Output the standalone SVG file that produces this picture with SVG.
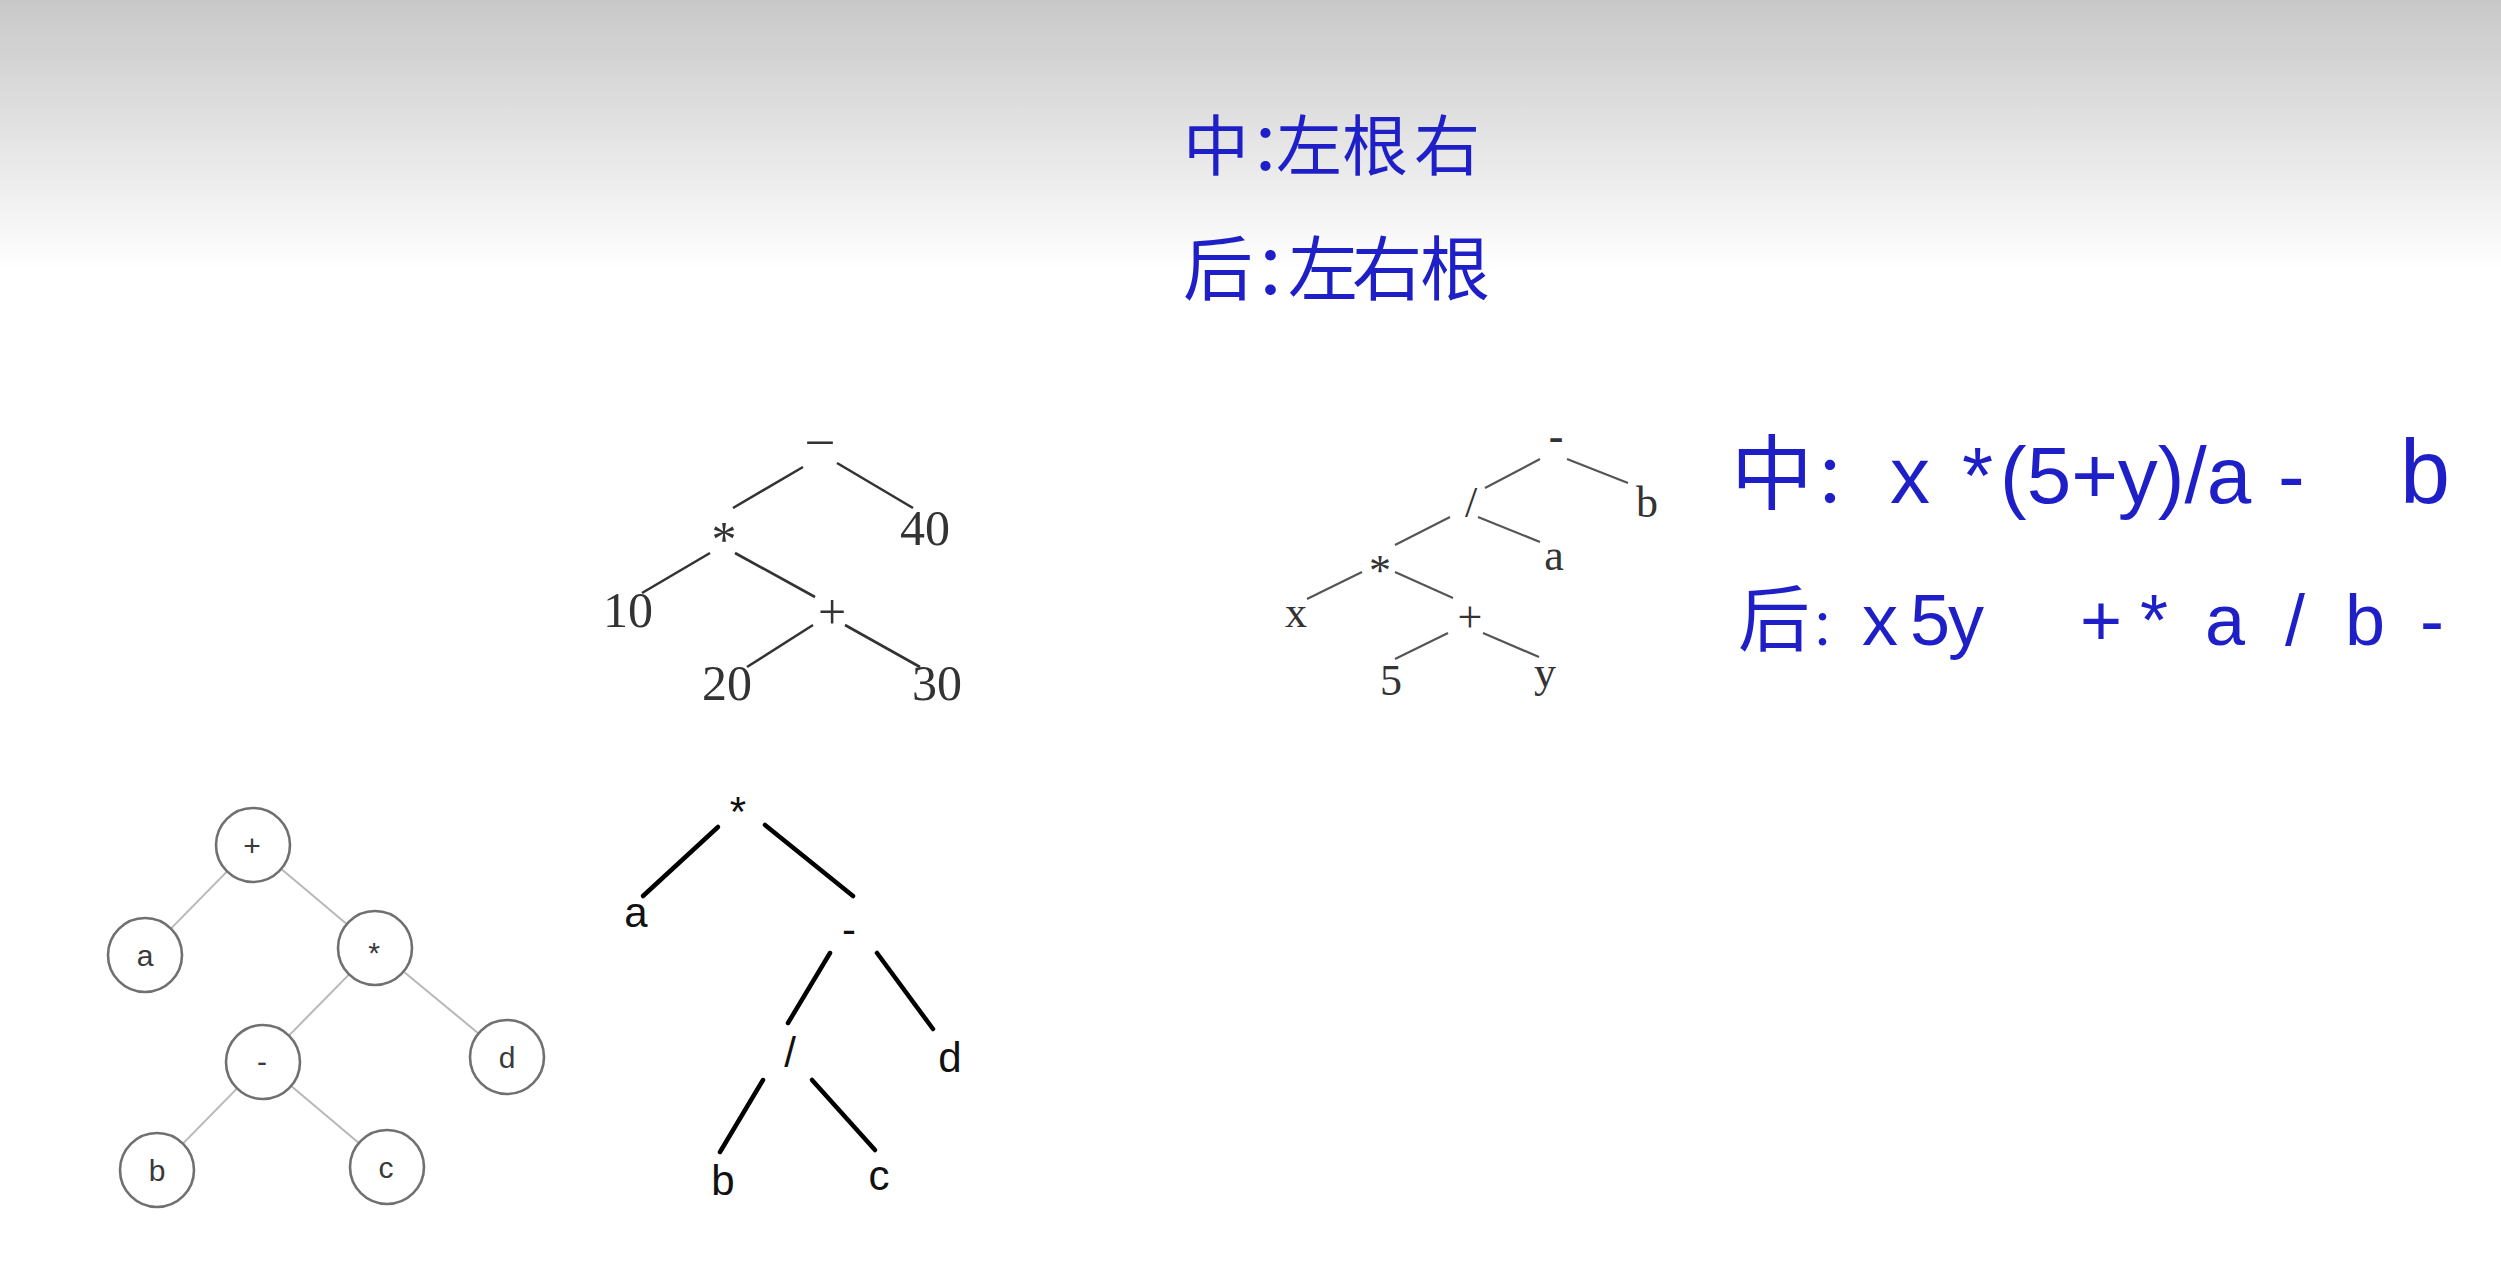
<svg xmlns="http://www.w3.org/2000/svg" width="2501" height="1273" viewBox="0 0 2501 1273">
<defs>
<linearGradient id="bg" x1="0" y1="0" x2="0" y2="270" gradientUnits="userSpaceOnUse">
<stop offset="0" stop-color="#c8c8c8"/>
<stop offset="1" stop-color="#ffffff"/>
</linearGradient>
<style>
.serif{font-family:"Liberation Serif","Times New Roman",serif;fill:#333;text-anchor:middle}
.t1{font-size:50px}
.t2{font-size:44px}
.sans{font-family:"Liberation Sans",Arial,sans-serif;text-anchor:middle}
.c3{font-size:30px;fill:#3a3a3a}
.t4{font-size:42px;fill:#111}
.e1{stroke:#333;stroke-width:2.6;fill:none}
.e2{stroke:#555;stroke-width:2.2;fill:none}
.e3{stroke:#b8b8b8;stroke-width:2;fill:none}
.e4{stroke:#000;stroke-width:4.5;fill:none;stroke-linecap:round}
.circ{fill:#fff;stroke:#707070;stroke-width:2.6}
.hw{fill:#1f1fc8;font-family:"Liberation Sans","Noto Sans CJK SC",sans-serif}
.cjk{font-family:"Noto Sans CJK SC",sans-serif}
</style>
</defs>
<rect x="0" y="0" width="2501" height="1273" fill="#fff"/>
<rect x="0" y="0" width="2501" height="270" fill="url(#bg)"/>

<!-- handwritten notes -->
<g id="note-top">
<text class="hw cjk" font-size="66" x="1183 1249 1276 1342 1414" y="170">中：左根右</text>
<text class="hw cjk" font-size="70" x="1183 1253 1288 1352 1420" y="295">后：左右根</text>
</g>
<g id="note-right">
<text class="hw" font-size="80" y="503"><tspan class="cjk" font-size="82" x="1731">中</tspan><tspan class="cjk" font-size="68" x="1813">：</tspan><tspan x="1890">x</tspan><tspan x="1962">*</tspan><tspan x="2000">(5+y)/a</tspan><tspan x="2278">-</tspan><tspan x="2400" font-size="90">b</tspan></text>
<text class="hw" font-size="72" y="645"><tspan class="cjk" font-size="72" x="1738">后</tspan><tspan class="cjk" font-size="50" x="1810">：</tspan><tspan x="1862 1910 1948 2080 2140 2205 2285 2345 2420">x5y+*a/b-</tspan></text>
</g>

<!-- connectors -->
<g id="connectors">
<g id="edges-tree1">
<line class="e1" x1="803" y1="467" x2="733" y2="508"/>
<line class="e1" x1="837" y1="463" x2="913" y2="508"/>
<line class="e1" x1="710" y1="553" x2="642" y2="593"/>
<line class="e1" x1="735" y1="553" x2="815" y2="597"/>
<line class="e1" x1="813" y1="625" x2="747" y2="667"/>
<line class="e1" x1="845" y1="625" x2="920" y2="667"/>
</g>
<g id="edges-tree2">
<line class="e2" x1="1540" y1="459" x2="1485" y2="488"/>
<line class="e2" x1="1567" y1="459" x2="1628" y2="483"/>
<line class="e2" x1="1450" y1="517" x2="1395" y2="545"/>
<line class="e2" x1="1478" y1="517" x2="1540" y2="542"/>
<line class="e2" x1="1362" y1="572" x2="1307" y2="599"/>
<line class="e2" x1="1395" y1="572" x2="1453" y2="598"/>
<line class="e2" x1="1448" y1="633" x2="1395" y2="659"/>
<line class="e2" x1="1483" y1="633" x2="1539" y2="657"/>
</g>
<g id="edges-tree3">
<line class="e3" x1="227.1" y1="871.4" x2="170.9" y2="928.6"/>
<line class="e3" x1="281.3" y1="868.9" x2="346.7" y2="924.1"/>
<line class="e3" x1="349.1" y1="974.4" x2="288.9" y2="1035.6"/>
<line class="e3" x1="403.5" y1="971.6" x2="478.5" y2="1033.4"/>
<line class="e3" x1="237.1" y1="1088.4" x2="182.9" y2="1143.6"/>
<line class="e3" x1="291.2" y1="1085.9" x2="358.8" y2="1143.1"/>
</g>
<g id="edges-tree4">
<line class="e4" x1="718" y1="827" x2="643" y2="896"/>
<line class="e4" x1="765" y1="825" x2="853" y2="896"/>
<line class="e4" x1="830" y1="953" x2="788" y2="1023"/>
<line class="e4" x1="877" y1="953" x2="933" y2="1029"/>
<line class="e4" x1="763" y1="1080" x2="720" y2="1152"/>
<line class="e4" x1="812" y1="1080" x2="875" y2="1150"/>
</g>
</g>

<!-- tree 1 -->
<g id="t1-minus"><text class="serif t1" x="820" y="455">–</text></g>
<g id="t1-mul"><text class="serif t1" x="724" y="556">*</text></g>
<g id="t1-40"><text class="serif t1" x="925" y="545">40</text></g>
<g id="t1-10"><text class="serif t1" x="628" y="627">10</text></g>
<g id="t1-plus"><text class="serif t1" x="832" y="629">+</text></g>
<g id="t1-20"><text class="serif t1" x="727" y="700">20</text></g>
<g id="t1-30"><text class="serif t1" x="937" y="700">30</text></g>

<!-- tree 2 -->
<g id="t2-minus"><text class="serif t2" x="1556" y="451" font-weight="bold">-</text></g>
<g id="t2-div"><text class="serif t2" x="1471" y="517">/</text></g>
<g id="t2-b"><text class="serif t2" x="1647" y="517">b</text></g>
<g id="t2-mul"><text class="serif t2" x="1380" y="585">*</text></g>
<g id="t2-a"><text class="serif t2" x="1554" y="570">a</text></g>
<g id="t2-x"><text class="serif t2" x="1296" y="627">x</text></g>
<g id="t2-plus"><text class="serif t2" x="1470" y="632">+</text></g>
<g id="t2-5"><text class="serif t2" x="1391" y="695">5</text></g>
<g id="t2-y"><text class="serif t2" x="1545" y="687">y</text></g>

<!-- tree 3 -->
<g id="t3-plus"><circle class="circ" cx="253" cy="845" r="37"/><text class="sans c3" x="252" y="856">+</text></g>
<g id="t3-a"><circle class="circ" cx="145" cy="955" r="37"/><text class="sans c3" x="145" y="966">a</text></g>
<g id="t3-mul"><circle class="circ" cx="375" cy="948" r="37"/><text class="sans c3" x="374" y="963">*</text></g>
<g id="t3-minus"><circle class="circ" cx="263" cy="1062" r="37"/><text class="sans c3" x="262" y="1072">-</text></g>
<g id="t3-d"><circle class="circ" cx="507" cy="1057" r="37"/><text class="sans c3" x="507" y="1068">d</text></g>
<g id="t3-b"><circle class="circ" cx="157" cy="1170" r="37"/><text class="sans c3" x="157" y="1181">b</text></g>
<g id="t3-c"><circle class="circ" cx="387" cy="1167" r="37"/><text class="sans c3" x="386" y="1178">c</text></g>

<!-- tree 4 -->
<g id="t4-mul"><text class="sans t4" x="738" y="826">*</text></g>
<g id="t4-a"><text class="sans t4" x="636" y="927">a</text></g>
<g id="t4-minus"><text class="sans t4" x="849" y="944">-</text></g>
<g id="t4-div"><text class="sans t4" x="790" y="1067">/</text></g>
<g id="t4-d"><text class="sans t4" x="950" y="1072">d</text></g>
<g id="t4-b"><text class="sans t4" x="723" y="1195">b</text></g>
<g id="t4-c"><text class="sans t4" x="879" y="1190">c</text></g>
</svg>
